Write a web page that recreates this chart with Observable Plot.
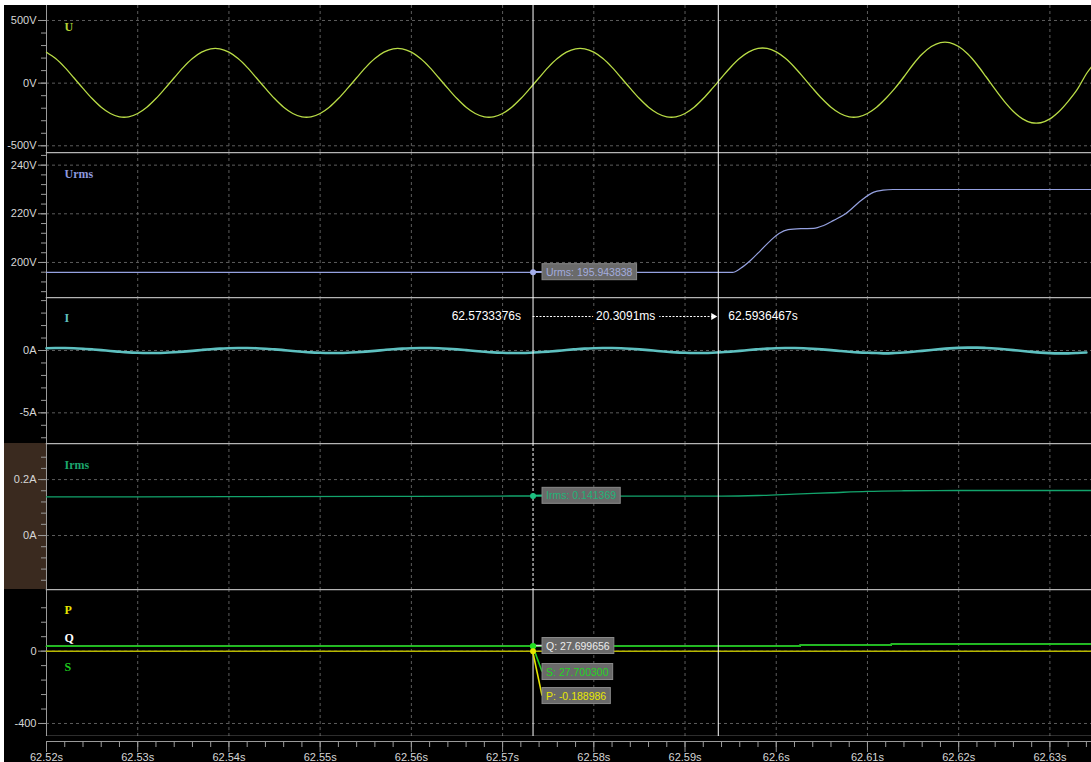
<!DOCTYPE html>
<html>
<head>
<meta charset="utf-8">
<script src="https://cdn.jsdelivr.net/npm/d3@7"></script>
<script src="https://cdn.jsdelivr.net/npm/@observablehq/plot@0.6"></script>
<style>
  html, body { margin: 0; padding: 0; background: #ffffff; }
  #wrap { position: absolute; left: 4px; top: 5px; width: 1087px; height: 757px; background: #000; overflow: hidden; }
  #wrap svg { position: absolute; left: 0; display: block; }
</style>
</head>
<body>
<div id="wrap"></div>
<script>
// ---------------- DATA ----------------
const xDomain = [62.52, 62.63456];
const xTicks = [62.52, 62.53, 62.54, 62.55, 62.56, 62.57, 62.58, 62.59, 62.6, 62.61, 62.62, 62.63];
const cursors = [62.5733376, 62.5936467];

// U waveform sampled every 1 ms from 62.520 s
const uStart = 62.52, uStep = 0.001;
const uValues = [
  247, 196, 126, 43,
  -42, -123, -192, -242, -269, -269, -242, -192, -123, -42,
  43, 126, 196, 247, 274, 274, 247, 196, 126, 43,
  -42, -123, -192, -242, -269, -269, -242, -192, -123, -42,
  43, 126, 196, 247, 274, 274, 247, 196, 126, 43,
  -42, -123, -192, -242, -269, -269, -242, -192, -123, -42,
  43, 126, 196, 247, 274, 274, 247, 196, 126, 43,
  -42, -123, -192, -242, -269, -269, -242, -192, -123, -42,
  44, 127, 198, 249, 277, 277, 249, 198, 127, 44,
  -42, -123, -192, -242, -269, -269, -242, -192, -123, -42,
  51, 149, 232, 292, 324, 324, 292, 232, 149, 51,
  -50, -145, -226, -285, -316, -316, -285, -226, -145, -50,
  75
];
const uEndTime = 62.63456, uEndValue = 130;

// Urms
const urmsTimes  = [62.52, 62.5952, 62.5961, 62.5972, 62.5983, 62.5994, 62.6003, 62.6013, 62.6027, 62.6041, 62.6052, 62.6063, 62.6076, 62.6093, 62.6107, 62.6117, 62.6128, 62.63456];
const urmsValues = [195.94, 195.94, 197.6, 200.9, 205.0, 209.1, 211.9, 213.5, 213.9, 214.0, 215.2, 217.3, 220.0, 225.5, 228.9, 229.7, 230.0, 230.0];
const urmsCursor = 195.943838;

// I waveform sampled every 1 ms from 62.520 s
const iStart = 62.52, iStep = 0.001;
const iValues = [
  0.18, 0.20, 0.20, 0.18, 0.14, 0.09, 0.03, -0.04, -0.10, -0.15, -0.18, -0.20, -0.20, -0.18, -0.14, -0.09, -0.03, 0.04, 0.10, 0.15,
  0.18, 0.20, 0.20, 0.18, 0.14, 0.09, 0.03, -0.04, -0.10, -0.15, -0.18, -0.20, -0.20, -0.18, -0.14, -0.09, -0.03, 0.04, 0.10, 0.15,
  0.18, 0.20, 0.20, 0.18, 0.14, 0.09, 0.03, -0.04, -0.10, -0.15, -0.18, -0.20, -0.20, -0.18, -0.14, -0.09, -0.03, 0.04, 0.10, 0.15,
  0.18, 0.20, 0.20, 0.18, 0.14, 0.09, 0.03, -0.04, -0.10, -0.15, -0.18, -0.20, -0.20, -0.18, -0.14, -0.09, -0.03, 0.04, 0.10, 0.15,
  0.18, 0.20, 0.20, 0.18, 0.14, 0.09, 0.03, -0.04, -0.10, -0.15, -0.18, -0.20,
  -0.23, -0.20, -0.16, -0.10, -0.03, 0.04, 0.11, 0.17,
  0.21, 0.23, 0.23, 0.20, 0.16, 0.10, 0.03, -0.04, -0.11, -0.17, -0.21, -0.23, -0.23, -0.20, -0.16
];

// Irms
const irmsTimes  = [62.52, 62.54, 62.56, 62.5733376, 62.594, 62.598, 62.602, 62.606, 62.61, 62.614, 62.62, 62.63456];
const irmsValues = [0.138, 0.139, 0.140, 0.141369, 0.141, 0.143, 0.148, 0.153, 0.158, 0.160, 0.161, 0.161];
const irmsCursor = 0.141369;

// P, Q, S
const pqsTimes = [62.52, 62.6026, 62.6126, 62.63456];
const pValues = [-0.188986, -0.19, -0.19, -0.19];
const qValues = [27.699656, 33.5, 39.0, 39.0];
const sValues = [27.700300, 33.5, 39.0, 39.0];
const pCursor = -0.188986, qCursor = 27.699656, sCursor = 27.700300;

// axis ticks
const uMajor = [-500, 0, 500], uMinor = [-500, -400, -300, -200, -100, 0, 100, 200, 300, 400, 500];
const urmsMajor = [200, 220, 240], urmsMinor = [188, 192, 196, 200, 204, 208, 212, 216, 220, 224, 228, 232, 236, 240, 244];
const iMajor = [-5, 0], iMinor = [-7, -6, -5, -4, -3, -2, -1, 0, 1, 2, 3, 4];
const irmsMajor = [0, 0.2], irmsMinor = [-0.16, -0.12, -0.08, -0.04, 0, 0.04, 0.08, 0.12, 0.16, 0.2, 0.24, 0.28];
const pqsMajor = [-400, 0], pqsMinor = [-400, -320, -240, -160, -80, 0, 80, 160, 240];
const xMinor = d3.range(0, 58).map(i => 62.52 + i * 0.002);

// ---------------- LAYOUT / STYLE ----------------
const W = 1087, ML = 42;
const FONT = "'Liberation Sans', Arial, sans-serif";
const LABEL_FONT = "'Liberation Serif', 'DejaVu Serif', serif";
const GRID = "#5c5c5c";
const TICK = "#9a9a9a";
const TXT = "#d6d6d6";
const SEP = "#b4b4b4";
const NS = "http://www.w3.org/2000/svg";

const uData = uValues.map((v, i) => ({t: uStart + i * uStep, v})).concat([{t: uEndTime, v: uEndValue}]);
const iData = iValues.map((v, i) => ({t: iStart + i * iStep, v}));
const urmsData = urmsTimes.map((t, i) => ({t, v: urmsValues[i]}));
const irmsData = irmsTimes.map((t, i) => ({t, v: irmsValues[i]}));
const pData = pqsTimes.map((t, i) => ({t, v: pValues[i]}));
const qData = pqsTimes.map((t, i) => ({t, v: qValues[i]}));
const sData = pqsTimes.map((t, i) => ({t, v: sValues[i]}));

function label(text, fill, dy) {
  return Plot.text([text], {frameAnchor: "top-left", dx: 18, dy, textAnchor: "start", lineAnchor: "middle",
    fill, fontFamily: LABEL_FONT, fontWeight: "bold", fontSize: 12});
}

function tipText(v, txt, fill, dy, name) {
  return Plot.text([{t: cursors[0], v}], {x: "t", y: "v", text: () => txt, dx: 13, dy, textAnchor: "start",
    lineAnchor: "middle", fill, fontSize: 10.5, fontFamily: FONT, ariaDescription: name});
}

function panel({height, yDomain, major, minor, fmt, marks, bg, top}) {
  const chart = Plot.plot({
    width: W, height,
    marginLeft: ML, marginRight: 0, marginTop: 0, marginBottom: 0,
    x: {domain: xDomain, axis: null},
    y: {domain: yDomain, axis: null},
    style: {background: bg || "#000", color: TXT, fontFamily: FONT, fontSize: "11px"},
    marks: [
      bg ? Plot.frame({fill: "#000", stroke: "none"}) : null,
      Plot.gridX({ticks: xTicks, stroke: GRID, strokeOpacity: 1, strokeDasharray: "3,3"}),
      Plot.gridY({ticks: major, stroke: GRID, strokeOpacity: 1, strokeDasharray: "3,3"}),
      Plot.axisY({ticks: minor, tickSize: 5, tickFormat: () => "", stroke: TICK, label: null}),
      Plot.axisY({ticks: major, tickSize: 8, tickPadding: 2, tickFormat: fmt, stroke: TICK, fill: TXT, fontSize: 11, label: null}),
      Plot.frame({anchor: "left", stroke: TICK}),
      top ? Plot.frame({anchor: "top", stroke: SEP, strokeWidth: 1.5}) : null,
      ...marks
    ]
  });
  chart.__yDomain = yDomain;
  chart.__height = height;
  return chart;
}

function addTips(svg, tips) {
  const xs = d3.scaleLinear(xDomain, [ML, W]);
  const ys = d3.scaleLinear(svg.__yDomain, [svg.__height, 0]);
  const dotsG = svg.querySelector('g[aria-description="cursor-dots"]');
  for (const tip of tips) {
    const g = svg.querySelector(`g[aria-description="${tip.name}"]`);
    if (!g) continue;
    const t = g.querySelector("text");
    const b = t.getBBox(), m = t.getCTM();
    const x0 = m.e + b.x - 4, y0 = m.f + b.y - 2, w = b.width + 8, h = b.height + 4;
    const r = document.createElementNS(NS, "rect");
    r.setAttribute("x", x0); r.setAttribute("y", y0);
    r.setAttribute("width", w); r.setAttribute("height", h);
    r.setAttribute("fill", "#6a6a6a"); r.setAttribute("stroke", "#8a8a8a"); r.setAttribute("stroke-width", 1);
    svg.insertBefore(r, g);
    const ln = document.createElementNS(NS, "line");
    ln.setAttribute("x1", xs(cursors[0])); ln.setAttribute("y1", ys(tip.v));
    ln.setAttribute("x2", x0); ln.setAttribute("y2", y0 + h / 2);
    ln.setAttribute("stroke", tip.leader); ln.setAttribute("stroke-width", 1.6);
    svg.insertBefore(ln, dotsG || g);
  }
}

const wrap = document.getElementById("wrap");
function place(svg, top) { svg.style.top = top + "px"; wrap.appendChild(svg); return svg; }

// ---- Panel 1: U ----
const p1 = panel({
  height: 147, yDomain: [-553.5, 619.7], major: uMajor, minor: uMinor, fmt: d => `${d}V`,
  marks: [
    Plot.line(uData, {x: "t", y: "v", stroke: "#b9dc46", strokeWidth: 1.3, curve: "catmull-rom"}),
    Plot.ruleX(cursors, {stroke: "#ffffff", strokeWidth: 1}),
    label("U", "#b4d236", 22)
  ]
});
place(p1, 0);

// ---- Panel 2: Urms ----
const p2 = panel({
  height: 145, yDomain: [185.6, 245.2], major: urmsMajor, minor: urmsMinor, fmt: d => `${d}V`, top: true,
  marks: [
    Plot.line(urmsData, {x: "t", y: "v", stroke: "#95a1e0", strokeWidth: 1.2, curve: "monotone-x"}),
    Plot.ruleX(cursors, {stroke: "#ffffff", strokeWidth: 1}),
    label("Urms", "#8d99de", 22),
    Plot.dot([{t: cursors[0], v: urmsCursor}], {x: "t", y: "v", r: 3, fill: "#a4aeea", ariaDescription: "cursor-dots"}),
    tipText(urmsCursor, `Urms: ${urmsCursor.toFixed(6)}`, "#a3acdf", 0, "tip-urms")
  ]
});
place(p2, 147);

// ---- Panel 3: I ----
const iDomain = [-7.46, 4.25];
const rowOffsetPx = 19;
const yRow = iDomain[1] - rowOffsetPx / 146 * (iDomain[1] - iDomain[0]);
const deltaMs = ((cursors[1] - cursors[0]) * 1000).toFixed(4);
const p3 = panel({
  height: 146, yDomain: iDomain, major: iMajor, minor: iMinor, fmt: d => `${d}A`, top: true,
  marks: [
    Plot.line(iData, {x: "t", y: "v", stroke: "#5ec0c0", strokeWidth: 2.6, curve: "catmull-rom"}),
    Plot.ruleX(cursors, {stroke: "#ffffff", strokeWidth: 1}),
    label("I", "#5fbfc0", 21),
    Plot.ruleY([{y: yRow, x1: cursors[0], x2: cursors[1]}], {y: "y", x1: "x1", x2: "x2", stroke: "#ffffff",
      strokeDasharray: "2,1.5", insetRight: 6}),
    Plot.dot([{x: cursors[1], y: yRow}], {x: "x", y: "y", symbol: "triangle", rotate: 90, r: 2.6, fill: "#ffffff", dx: -5}),
    Plot.text([{x: cursors[0], y: yRow}], {x: "x", y: "y", text: d => `${d.x.toFixed(7)}s`, dx: -12, textAnchor: "end",
      lineAnchor: "middle", fill: "#ffffff", fontSize: 12, fontFamily: FONT}),
    Plot.text([{x: cursors[1], y: yRow}], {x: "x", y: "y", text: d => `${d.x.toFixed(7)}s`, dx: 10, textAnchor: "start",
      lineAnchor: "middle", fill: "#ffffff", fontSize: 12, fontFamily: FONT}),
    Plot.text([{x: (cursors[0] + cursors[1]) / 2, y: yRow}], {x: "x", y: "y", text: () => `${deltaMs}ms`,
      textAnchor: "middle", lineAnchor: "middle", fill: "#ffffff", stroke: "#000000", strokeWidth: 9,
      paintOrder: "stroke", fontSize: 12, fontFamily: FONT})
  ]
});
place(p3, 292);

// ---- Panel 4: Irms ----
const p4 = panel({
  height: 146, yDomain: [-0.193, 0.329], major: irmsMajor, minor: irmsMinor, fmt: d => `${d}A`, top: true, bg: "#3a2a1f",
  marks: [
    Plot.line(irmsData, {x: "t", y: "v", stroke: "#13a46c", strokeWidth: 1.3, curve: "monotone-x"}),
    Plot.ruleX([cursors[0]], {stroke: "#ffffff", strokeWidth: 1, strokeDasharray: "3,2"}),
    Plot.ruleX([cursors[1]], {stroke: "#ffffff", strokeWidth: 1}),
    label("Irms", "#1ca56d", 22),
    Plot.dot([{t: cursors[0], v: irmsCursor}], {x: "t", y: "v", r: 3, fill: "#1cbf80", ariaDescription: "cursor-dots"}),
    tipText(irmsCursor, `Irms: ${irmsCursor.toFixed(6)}`, "#1fb477", 0, "tip-irms")
  ]
});
place(p4, 438);

// ---- Panel 5: P, Q, S ----
const p5 = panel({
  height: 147, yDomain: [-472, 341], major: pqsMajor, minor: pqsMinor, fmt: d => `${d}`, top: true,
  marks: [
    Plot.frame({anchor: "bottom", stroke: SEP, strokeWidth: 1.5}),
    Plot.line(pData, {x: "t", y: "v", stroke: "#b8b800", strokeWidth: 1.6, curve: "step-after"}),
    Plot.line(qData, {x: "t", y: "v", stroke: "#ffffff", strokeWidth: 1.4, curve: "step-after"}),
    Plot.line(sData, {x: "t", y: "v", stroke: "#16c016", strokeWidth: 1.6, curve: "step-after"}),
    Plot.ruleX(cursors, {stroke: "#ffffff", strokeWidth: 1}),
    label("P", "#e6e600", 21),
    label("Q", "#ffffff", 49),
    label("S", "#1ec81e", 78),
    Plot.dot([{t: cursors[0], v: sCursor, c: "#22e022", r: 4}, {t: cursors[0], v: pCursor, c: "#e6e600", r: 3.5}],
      {x: "t", y: "v", r: "r", fill: "c", ariaDescription: "cursor-dots"}),
    tipText(qCursor, `Q: ${qCursor.toFixed(6)}`, "#ececec", 0, "tip-q"),
    tipText(sCursor, `S: ${sCursor.toFixed(6)}`, "#22d422", 26, "tip-s"),
    tipText(pCursor, `P: ${pCursor.toFixed(6)}`, "#e8e800", 45, "tip-p")
  ]
});
place(p5, 584);

// ---- X axis ----
const px = Plot.plot({
  width: W, height: 26, marginLeft: ML, marginRight: 0, marginTop: 5, marginBottom: 20,
  x: {domain: xDomain, axis: null},
  style: {background: "#000", color: TXT, fontFamily: FONT, fontSize: "11px"},
  marks: [
    Plot.frame({anchor: "top", stroke: TICK}),
    Plot.axisX({ticks: xMinor, tickSize: 5, tickFormat: () => "", stroke: TICK, anchor: "bottom", label: null}),
    Plot.axisX({ticks: xTicks, tickSize: 10, tickPadding: 1, tickFormat: d => `${+d.toFixed(2)}s`, stroke: TICK,
      fill: TXT, fontSize: 11, anchor: "bottom", label: null})
  ]
});
place(px, 731);

// tooltip boxes and leaders
addTips(p2, [{name: "tip-urms", v: urmsCursor, leader: "#a4aeea"}]);
addTips(p4, [{name: "tip-irms", v: irmsCursor, leader: "#1cbf80"}]);
addTips(p5, [
  {name: "tip-q", v: qCursor, leader: "#dddddd"},
  {name: "tip-s", v: sCursor, leader: "#22d022"},
  {name: "tip-p", v: pCursor, leader: "#e6e600"}
]);
</script>
</body>
</html>
